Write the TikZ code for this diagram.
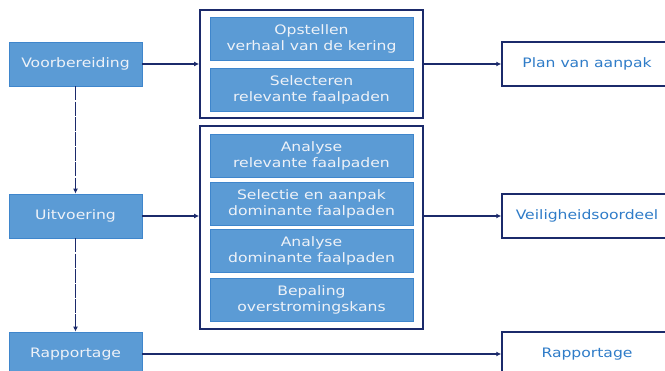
\documentclass[tikz,border=0pt]{standalone}
\usepackage{fontspec}
\setmainfont[FakeStretch=1.2]{DejaVu Sans}
\usetikzlibrary{arrows.meta,fit}
\definecolor{navy}{HTML}{1B2A6B}
\definecolor{boxblue}{HTML}{5B9BD5}
\definecolor{boxedge}{HTML}{3F86CC}
\definecolor{textblue}{HTML}{2F7CC8}
\definecolor{textlight}{HTML}{EEF2F8}
\begin{document}
\begin{tikzpicture}[x=1pt,y=-1pt]
\tikzstyle{every node}=[font=\fontsize{13}{16}\selectfont, align=center, inner sep=0pt]
\tikzstyle{phase}=[draw=boxedge, line width=0.8pt, fill=boxblue, text=textlight, minimum width=133pt, minimum height=44pt]
\tikzstyle{task}=[draw=boxedge, line width=0.8pt, fill=boxblue, text=textlight, minimum width=203pt, minimum height=43pt]
\tikzstyle{result}=[draw=navy, line width=1.5pt, fill=white, text=textblue, minimum width=170pt, minimum height=44pt]
\tikzstyle{group}=[draw=navy, line width=2pt, inner xsep=9.5pt]
\tikzstyle{flow}=[draw=navy, line width=1.8pt, -{Latex[length=5pt,width=5pt]}]
\tikzstyle{phaseflow}=[flow, dash pattern=on 14pt off 1.2pt]
	\clip (0,0) rectangle (665,371);
	% fases
	\node[phase] (voor) at (75.5,64) {Voorbereiding};
	\node[phase] (uit) at (75.5,216) {Uitvoering};
	\node[phase] (rap) at (75.5,354) {Rapportage};
	% stappen
	\node[task] (opst) at (311.5,38.5) {Opstellen\\verhaal van de kering};
	\node[task] (selc) at (311.5,89.5) {Selecteren\\relevante faalpaden};
	\node[task] (anrel) at (311.5,155.5) {Analyse\\relevante faalpaden};
	\node[task] (seldom) at (311.5,203.5) {Selectie en aanpak\\dominante faalpaden};
	\node[task] (andom) at (311.5,251) {Analyse\\dominante faalpaden};
	\node[task] (bep) at (311.5,299.5) {Bepaling\\overstromingskans};
	\node[group, inner ysep=7pt, fit=(opst)(selc)] (grpvoor) {};
	\node[group, inner ysep=8pt, fit=(anrel)(bep)] (grpuit) {};
	% producten
	\node[result] (plan) at (587,64) {Plan van aanpak};
	\node[result] (oordeel) at (587,216) {Veiligheidsoordeel};
	\node[result] (rapdoc) at (587,354) {Rapportage};
	% pijlen
	\draw[phaseflow] (voor) -- (uit);
	\draw[phaseflow] (uit) -- (rap);
	\draw[flow] (voor) -- (grpvoor.west |- voor);
	\draw[flow] (grpvoor.east |- plan) -- (plan);
	\draw[flow] (uit) -- (grpuit.west |- uit);
	\draw[flow] (grpuit.east |- oordeel) -- (oordeel);
	\draw[flow] (rap) -- (rapdoc);
\end{tikzpicture}
\end{document}
